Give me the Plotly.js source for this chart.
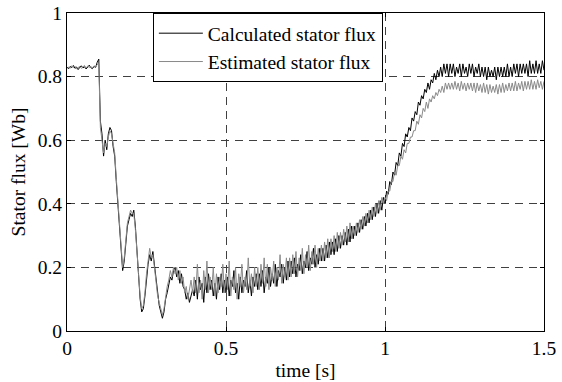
<!DOCTYPE html>
<html>
<head>
<meta charset="utf-8">
<script src="https://cdn.plot.ly/plotly-3.0.1.min.js"></script>
<style>html,body{margin:0;padding:0;background:#fff;}#chart{width:562px;height:382px;}</style>
</head>
<body>
<div id="chart"></div>
<script>
// sample spacing of the recorded signals (s)
const timeStart = 0;
const timeStep = 0.005;

const seriesNames = ["Calculated stator flux", "Estimated stator flux"];

const calculatedFlux = [
  0.83,0.825,0.832,0.828,0.835,0.826,0.83,0.822,0.829,0.834,0.827,0.831,0.824,0.83,0.836,0.828,0.825,0.832,0.829,0.845,
  0.855,0.66,0.62,0.55,0.6,0.57,0.62,0.64,0.63,0.58,0.55,0.47,0.40,0.32,0.24,0.19,0.22,0.28,0.33,0.35,
  0.37,0.36,0.38,0.33,0.25,0.17,0.10,0.06,0.07,0.11,0.17,0.21,0.24,0.22,0.25,0.21,0.17,0.12,0.08,0.06,
  0.04,0.06,0.10,0.12,0.15,0.17,0.16,0.19,0.20,0.17,0.19,0.15,0.18,0.14,0.13,0.10,0.12,0.09,0.11,0.13,
  0.11,0.16,0.10,0.17,0.13,0.15,0.09,0.17,0.12,0.18,0.13,0.16,0.11,0.15,0.10,0.17,0.13,0.18,0.12,0.16,
  0.12,0.17,0.11,0.16,0.14,0.19,0.12,0.15,0.10,0.17,0.12,0.16,0.14,0.19,0.12,0.16,0.11,0.17,0.14,0.18,
  0.13,0.18,0.14,0.19,0.12,0.17,0.15,0.20,0.14,0.18,0.15,0.21,0.14,0.19,0.17,0.21,0.15,0.20,0.16,0.22,
  0.17,0.22,0.18,0.23,0.17,0.21,0.19,0.24,0.18,0.22,0.20,0.25,0.19,0.23,0.21,0.26,0.20,0.24,0.21,0.26,
  0.22,0.26,0.22,0.27,0.23,0.28,0.24,0.28,0.24,0.29,0.25,0.30,0.26,0.30,0.27,0.31,0.27,0.32,0.28,0.33,
  0.29,0.33,0.30,0.34,0.31,0.35,0.32,0.36,0.33,0.37,0.34,0.38,0.35,0.39,0.36,0.40,0.37,0.41,0.38,0.42,
  0.40,0.44,0.43,0.47,0.46,0.50,0.49,0.53,0.52,0.56,0.55,0.59,0.58,0.62,0.61,0.64,0.63,0.67,0.66,0.69,
  0.68,0.72,0.71,0.74,0.73,0.76,0.75,0.78,0.76,0.79,0.78,0.81,0.79,0.82,0.80,0.83,0.80,0.84,0.81,0.84,
  0.80,0.84,0.81,0.84,0.80,0.83,0.81,0.84,0.80,0.84,0.81,0.83,0.80,0.84,0.81,0.84,0.80,0.83,0.81,0.84,
  0.80,0.83,0.80,0.83,0.79,0.83,0.80,0.82,0.80,0.83,0.79,0.83,0.80,0.83,0.80,0.83,0.80,0.84,0.80,0.83,
  0.80,0.84,0.81,0.84,0.80,0.84,0.81,0.84,0.81,0.84,0.80,0.85,0.81,0.84,0.81,0.85,0.81,0.84,0.81,0.85,0.82
];

const estimatedFlux = [
  0.825,0.83,0.826,0.834,0.829,0.833,0.825,0.828,0.832,0.826,0.83,0.835,0.827,0.833,0.829,0.831,0.828,0.834,0.83,0.838,
  0.84,0.64,0.60,0.56,0.59,0.58,0.61,0.63,0.62,0.59,0.56,0.48,0.41,0.33,0.25,0.20,0.23,0.29,0.34,0.36,
  0.38,0.37,0.37,0.32,0.26,0.18,0.11,0.07,0.08,0.12,0.18,0.22,0.26,0.23,0.24,0.20,0.16,0.11,0.09,0.07,
  0.05,0.07,0.11,0.14,0.16,0.19,0.17,0.20,0.18,0.20,0.16,0.19,0.15,0.17,0.12,0.14,0.10,0.13,0.16,0.12,
  0.17,0.12,0.21,0.12,0.16,0.10,0.19,0.13,0.22,0.12,0.17,0.13,0.20,0.11,0.18,0.12,0.17,0.14,0.21,0.12,
  0.18,0.13,0.22,0.11,0.17,0.13,0.20,0.10,0.18,0.14,0.21,0.12,0.17,0.13,0.23,0.14,0.18,0.12,0.20,0.14,
  0.20,0.13,0.21,0.15,0.23,0.14,0.21,0.13,0.20,0.16,0.22,0.14,0.20,0.16,0.24,0.15,0.21,0.17,0.23,0.16,
  0.23,0.17,0.24,0.18,0.25,0.17,0.23,0.19,0.26,0.18,0.24,0.20,0.27,0.19,0.25,0.21,0.27,0.20,0.26,0.22,
  0.27,0.22,0.28,0.23,0.29,0.23,0.29,0.25,0.30,0.25,0.31,0.26,0.31,0.27,0.32,0.28,0.33,0.28,0.34,0.29,
  0.33,0.30,0.34,0.31,0.35,0.32,0.36,0.33,0.37,0.34,0.38,0.35,0.39,0.36,0.40,0.37,0.41,0.38,0.42,0.40,
  0.42,0.41,0.44,0.44,0.47,0.47,0.50,0.49,0.52,0.52,0.55,0.54,0.57,0.56,0.59,0.59,0.61,0.61,0.63,0.63,
  0.66,0.65,0.68,0.67,0.70,0.69,0.72,0.70,0.73,0.72,0.74,0.73,0.75,0.74,0.76,0.75,0.77,0.75,0.78,0.76,
  0.78,0.76,0.78,0.76,0.785,0.76,0.78,0.755,0.785,0.76,0.78,0.755,0.78,0.76,0.78,0.755,0.78,0.75,0.78,0.755,
  0.775,0.75,0.78,0.75,0.775,0.745,0.775,0.75,0.77,0.75,0.775,0.745,0.775,0.75,0.78,0.75,0.775,0.755,0.78,0.755,
  0.78,0.755,0.785,0.755,0.78,0.76,0.785,0.755,0.785,0.76,0.785,0.76,0.79,0.76,0.785,0.76,0.79,0.765,0.785,0.76,0.785
];

const xTickVals = [0, 0.5, 1, 1.5];
const xTickText = ["0", "0.5", "1", "1.5"];
const yTickVals = [0, 0.2, 0.4, 0.6, 0.8, 1];
const yTickText = ["0", "0.2", "0.4", "0.6", "0.8", "1"];

const FONT = "Liberation Serif, Times New Roman, serif";
const FS = 19.5;

const traces = [
  {
    type: "scatter", mode: "lines", name: seriesNames[0],
    x0: timeStart, dx: timeStep, y: calculatedFlux,
    line: {color: "#000000", width: 1}
  },
  {
    type: "scatter", mode: "lines", name: seriesNames[1],
    x0: timeStart, dx: timeStep, y: estimatedFlux,
    line: {color: "#8a8a8a", width: 1}
  }
];

const axisCommon = {
  showline: true, linecolor: "#000", linewidth: 1, mirror: "ticks",
  ticks: "inside", ticklen: 4, tickcolor: "#000",
  showgrid: true, gridcolor: "#404040", gridwidth: 1, griddash: "8px,6px",
  zeroline: false, tickfont: {family: FONT, size: FS, color: "#000"}
};

const layout = {
  width: 562, height: 382,
  margin: {l: 67, r: 18, t: 13, b: 51, pad: 0},
  paper_bgcolor: "#fff", plot_bgcolor: "#fff",
  font: {family: FONT, size: FS, color: "#000"},
  showlegend: true,
  legend: {
    x: 0.18, y: 1, xanchor: "left", yanchor: "top",
    bgcolor: "#fff", bordercolor: "#000", borderwidth: 1,
    font: {family: FONT, size: FS, color: "#000"},
    itemwidth: 44,
    tracegroupgap: 0
  },
  xaxis: Object.assign({}, axisCommon, {
    range: [0, 1.5], tickmode: "array", tickvals: xTickVals, ticktext: xTickText,
    title: {text: "time [s]", font: {family: FONT, size: FS, color: "#000"}, standoff: 4}
  }),
  yaxis: Object.assign({}, axisCommon, {
    range: [0, 1], tickmode: "array", tickvals: yTickVals, ticktext: yTickText,
    title: {text: "Stator flux [Wb]", font: {family: FONT, size: FS, color: "#000"}, standoff: 6}
  })
};

Plotly.newPlot("chart", traces, layout, {displayModeBar: false, staticPlot: true});
</script>
</body>
</html>
